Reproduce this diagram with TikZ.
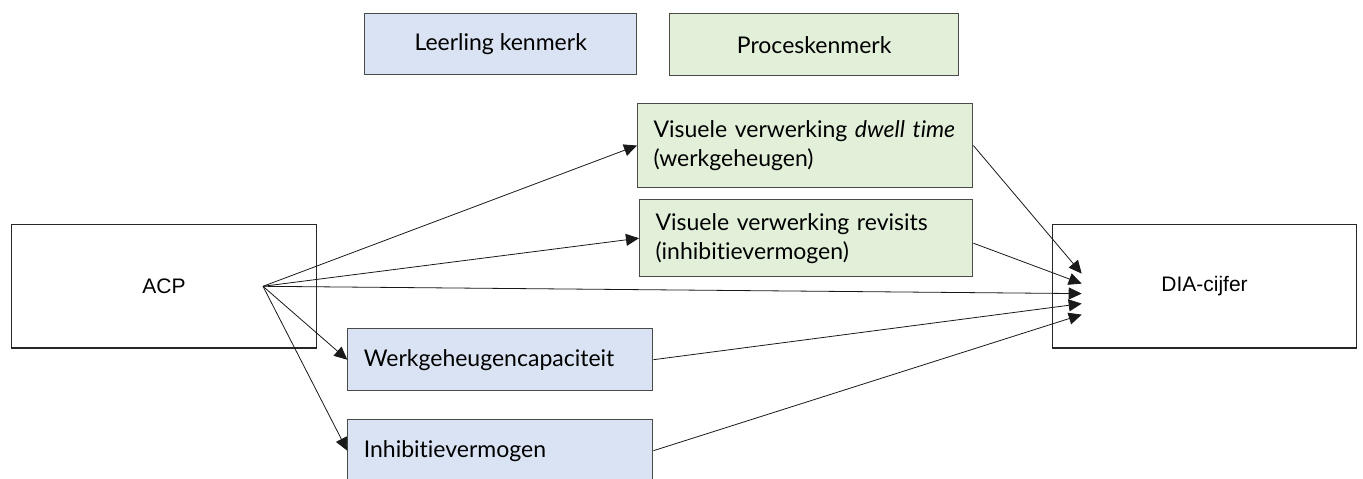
\documentclass[tikz,border=0pt]{standalone}
\usepackage{fontspec}
\setmainfont{Lato}[Ligatures={NoCommon,NoRequired,NoContextual}]
\newfontfamily\arialf{Liberation Sans}
\usetikzlibrary{arrows.meta,calc}
\definecolor{bluefill}{HTML}{DAE3F3}
\definecolor{greenfill}{HTML}{E2F0D9}
\definecolor{edgegray}{HTML}{4A4A4A}
\begin{document}
\begin{tikzpicture}[x=1pt,y=-1pt,
  every node/.style={font=\fontsize{23}{29}\selectfont},
  catbox/.style={draw=edgegray, line width=1.1pt, rectangle, anchor=north west, inner xsep=16pt, inner ysep=0pt, align=left},
  bluebox/.style={catbox, fill=bluefill},
  greenbox/.style={catbox, fill=greenfill},
  mainbox/.style={draw=black!85, line width=1.3pt, rectangle, anchor=north west, inner sep=0pt,
     font=\arialf\fontsize{21}{24}\selectfont},
  conn/.style={-{Triangle[length=13pt,width=12pt]}, line width=0.8pt, draw=black!90}
]
\useasboundingbox (0,0) rectangle (1363,479);
\clip (0,0) rectangle (1363,479);

% legend
\node[bluebox, minimum width=271.7pt, minimum height=60.7pt, align=center, inner xsep=0pt] (legL) at (364.3,13.3) {Leerling kenmerk};
\node[greenbox, minimum width=288.7pt, minimum height=61.7pt, align=center, inner xsep=0pt] (legP) at (669.3,13.3) {Proceskenmerk};

% main boxes
\node[mainbox, minimum width=304.7pt, minimum height=123.3pt] (acp) at (11,224) {ACP};
\node[mainbox, minimum width=304.3pt, minimum height=123.3pt] (dia) at (1051.7,224) {DIA-cijfer};

% process boxes
\node[greenbox, minimum width=335.3pt, minimum height=83.4pt, text width=303.3pt] (g1) at (637,103.3)
  {Visuele verwerking \textit{dwell time}\\(werkgeheugen)};
\node[greenbox, minimum width=333.3pt, minimum height=76.7pt, text width=301.3pt] (g2) at (639,199.3)
  {Visuele verwerking revisits\\(inhibitievermogen)};

% learner boxes
\node[bluebox, minimum width=305pt, minimum height=61.7pt, text width=273pt] (wg) at (347.3,328.3) {Werkgeheugencapaciteit};
\node[bluebox, minimum width=305pt, minimum height=61.7pt, text width=273pt] (ih) at (347.3,419.3) {Inhibitievermogen};

% connector points
\coordinate (src) at ($(acp.center)+(99,0)$);
\coordinate (d1) at ($(dia.west)+(30,-12.7)$);
\coordinate (d2) at ($(dia.west)+(30,-2.7)$);
\coordinate (d3) at ($(dia.west)+(30,7.3)$);
\coordinate (d4) at ($(dia.west)+(30,17.3)$);
\coordinate (d5) at ($(dia.west)+(30,28.3)$);
\coordinate (g2out) at ($(g2.east)+(0,5)$);

\draw[conn] (src) -- (g1.west);
\draw[conn] (src) -- (g2.west);
\draw[conn] (src) -- (d3);
\draw[conn] (src) -- (wg.west);
\draw[conn] (src) -- (ih.west);
\draw[conn] (g1.east) -- (d1);
\draw[conn] (g2out) -- (d2);
\draw[conn] (wg.east) -- (d4);
\draw[conn] (ih.east) -- (d5);
\end{tikzpicture}
\end{document}
